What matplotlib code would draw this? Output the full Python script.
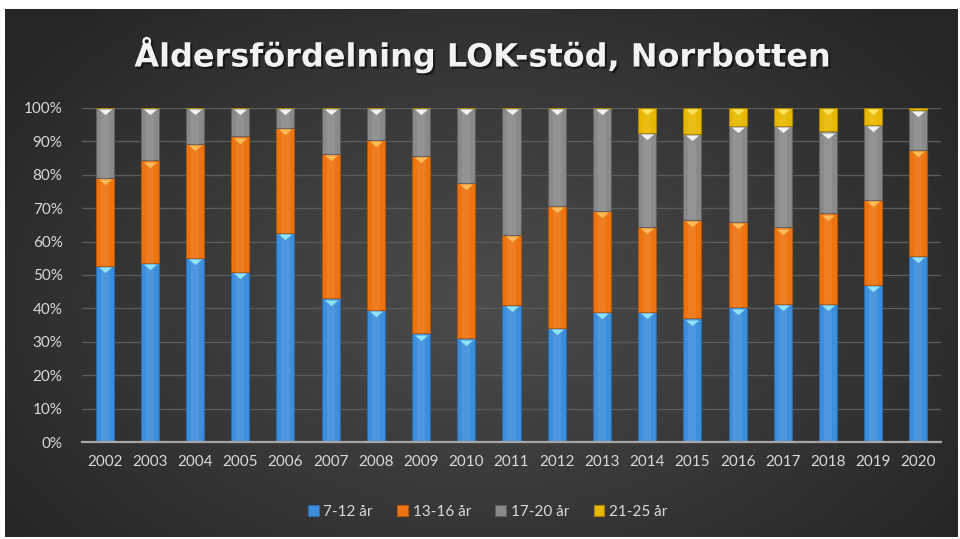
import numpy as np
import matplotlib
matplotlib.use("Agg")
import matplotlib.pyplot as plt
from matplotlib.patches import Patch
import matplotlib.patheffects as pe

years = ["2002", "2003", "2004", "2005", "2006", "2007", "2008", "2009", "2010",
         "2011", "2012", "2013", "2014", "2015", "2016", "2017", "2018", "2019", "2020"]
series_names = ["7-12 år", "13-16 år", "17-20 år", "21-25 år"]

age_7_12 = [52.7, 53.7, 55.2, 51.0, 62.7, 43.0, 39.5, 32.5, 31.0,
            41.0, 34.2, 39.0, 39.0, 37.0, 40.3, 41.3, 41.3, 47.0, 55.7]
age_13_16 = [26.3, 30.6, 34.1, 40.5, 31.3, 43.2, 50.9, 53.2, 46.6,
             21.0, 36.6, 30.2, 25.5, 29.5, 25.7, 23.0, 27.2, 25.5, 31.8]
age_17_20 = [21.0, 15.7, 10.7, 8.5, 6.0, 13.8, 9.6, 14.3, 22.4,
             38.0, 29.2, 30.8, 28.0, 25.7, 28.7, 30.4, 24.5, 22.5, 12.0]
age_21_25 = [0.0, 0.0, 0.0, 0.0, 0.0, 0.0, 0.0, 0.0, 0.0,
             0.0, 0.0, 0.0, 7.5, 7.8, 5.3, 5.3, 7.0, 5.0, 0.5]

series = [age_7_12, age_13_16, age_17_20, age_21_25]
colors = ["#3d8fdb", "#ee7410", "#8a8a8a", "#e8b800"]
edge_colors = ["#2a6aa8", "#b35508", "#5e5e5e", "#a88400"]
tri_colors = ["#8fe3ff", "#ffbb55", "#f2f2f2", "#ffe45c"]

W, H = 960, 539
fig = plt.figure(figsize=(W / 100, H / 100), dpi=100)
fig.patch.set_facecolor("white")

# background with radial gradient
bg = fig.add_axes([5 / W, 2 / H, 952 / W, 528 / H])
bg.set_axis_off()
yy, xx = np.mgrid[0:1:300j, 0:1:500j]
r = np.sqrt(((xx - 0.5) / 0.62) ** 2 + ((yy - 0.45) / 0.75) ** 2)
r = np.clip(r, 0, 1)
c0 = np.array([0x4c, 0x4c, 0x4c]) / 255
c1 = np.array([0x26, 0x26, 0x26]) / 255
img = c0[None, None, :] * (1 - r[..., None]) + c1[None, None, :] * r[..., None]
bg.imshow(img, aspect="auto", extent=[0, 1, 0, 1], origin="lower")
bg.set_xlim(0, 1)
bg.set_ylim(0, 1)

ax = fig.add_axes([82 / W, 1 - 442 / H, 859 / W, 334 / H])
ax.set_facecolor("none")
x = np.arange(len(years))
bw = 0.4
bottom = np.zeros(len(years))
for vals, c, ec, tc in zip(series, colors, edge_colors, tri_colors):
    v = np.array(vals)
    ax.bar(x, v, bw, bottom=bottom, color=c, edgecolor=ec, linewidth=0.8, zorder=3)
    ax.bar(x, v, bw * 0.45, bottom=bottom, color="white", alpha=0.08, linewidth=0, zorder=4)
    top = bottom + v
    mask = v > 0.8
    ax.scatter(x[mask], top[mask] - 0.4, marker=[(-1, 0), (1, 0), (0, -0.85)], s=90,
               color=tc, linewidths=0, zorder=5)
    bottom = top

ax.set_xlim(-0.5, len(years) - 0.5)
ax.set_ylim(0, 100)
ax.set_yticks(np.arange(0, 101, 10))
ax.set_yticklabels([f"{v}%" for v in range(0, 101, 10)])
ax.set_xticks(x)
ax.set_xticklabels(years)
ax.tick_params(axis="both", length=0, colors="#d9d9d9", labelsize=11)
ax.tick_params(axis="x", pad=9)
ax.tick_params(axis="y", pad=14)
for lab in ax.get_xticklabels() + ax.get_yticklabels():
    lab.set_fontfamily("Lato")
ax.grid(axis="y", color="#5a5a5a", linewidth=1, zorder=0)
for s in ["top", "right", "left"]:
    ax.spines[s].set_visible(False)
ax.spines["bottom"].set_color("#a6a6a6")
ax.spines["bottom"].set_linewidth(1.6)
ax.spines["bottom"].set_zorder(6)

fig.text(0.503, 1 - 55 / H, "Åldersfördelning LOK-stöd, Norrbotten", ha="center", va="center",
         fontsize=23, fontweight="bold", color="#f2f2f2", family="DejaVu Sans",
         path_effects=[pe.withSimplePatchShadow(offset=(1.5, -1.5), shadow_rgbFace="black", alpha=0.5)])

handles = [Patch(facecolor=c, edgecolor=ec, linewidth=0.8) for c, ec in zip(colors, edge_colors)]
leg = fig.legend(handles, series_names, loc="center", bbox_to_anchor=(0.508, 1 - 512 / H),
                 ncol=4, frameon=False, handlelength=0.7, handleheight=0.7,
                 handletextpad=0.3, columnspacing=1.6, prop={"family": "Lato", "size": 11})
for t in leg.get_texts():
    t.set_color("#d9d9d9")

fig.savefig("out.png", dpi=100, facecolor=fig.get_facecolor())
